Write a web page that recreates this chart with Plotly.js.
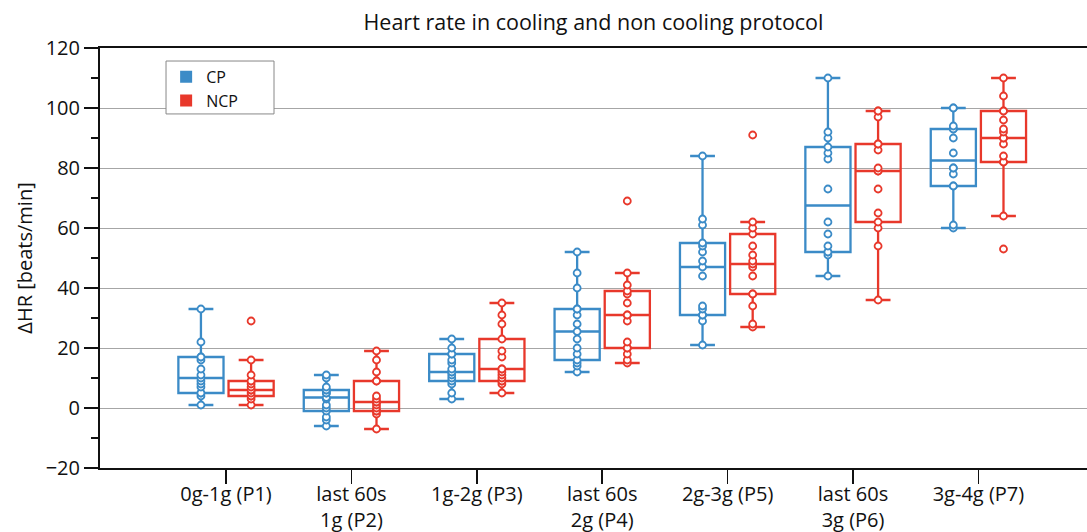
<!DOCTYPE html>
<html>
<head>
<meta charset="utf-8">
<script src="https://cdn.plot.ly/plotly-3.0.1.min.js"></script>
<style>html,body{margin:0;padding:0;background:#fff;}#chart{width:1087px;height:532px;}</style>
</head>
<body>
<div id="chart"></div>
<script>
const categories = ['0g-1g (P1)', 'last 60s<br>1g (P2)', '1g-2g (P3)', 'last 60s<br>2g (P4)', '2g-3g (P5)', 'last 60s<br>3g (P6)', '3g-4g (P7)'];
const seriesNames = ['CP', 'NCP'];

// ΔHR values (beats/min), one array per period
const cpP1 = [1, 4, 5, 5, 7, 8, 9, 10, 11, 13, 16, 17, 17, 22, 33];
const cpP2 = [-6, -4, -3, -1, 0, 1, 3, 3.5, 5, 5, 6, 6, 7, 10, 11];
const cpP3 = [3, 5, 8, 9, 10, 11, 12, 12, 13, 15, 16, 18, 18, 20, 23];
const cpP4 = [12, 14, 15, 16, 18, 20, 23, 25.5, 28, 31, 33, 33, 40, 45, 52];
const cpP5 = [21, 29, 31, 31, 33, 34, 44, 47, 49, 52, 54, 55, 61, 63, 84];
const cpP6 = [44, 51, 52, 52, 54, 58, 62, 73, 83, 85, 87, 90, 92, 110];
const cpP7 = [60, 61, 74, 74, 78, 80, 80, 85, 90, 93, 93, 94, 100, 100];

const ncpP1 = [1, 3, 4, 4, 5, 6, 6, 6, 7, 8, 9, 9, 11, 16, 29];
const ncpP2 = [-7, -2, -1, -1, 0, 1, 2, 2, 3, 4, 9, 9, 12, 16, 19];
const ncpP3 = [5, 8, 9, 9, 10, 11, 12, 13, 13, 17, 19, 23, 28, 31, 35];
const ncpP4 = [15, 16, 18, 20, 20, 22, 29, 31, 31, 35, 38, 39, 41, 45, 69];
const ncpP5 = [27, 28, 34, 38, 38, 44, 47, 48, 49, 51, 54, 58, 60, 62, 91];
const ncpP6 = [36, 54, 60, 62, 65, 73, 79, 79, 80, 86, 88, 88, 97, 99, 99];
const ncpP7 = [53, 64, 82, 82, 84, 88, 90, 90, 92, 93, 96, 99, 99, 104, 110];

const cpData = [cpP1, cpP2, cpP3, cpP4, cpP5, cpP6, cpP7];
const ncpData = [ncpP1, ncpP2, ncpP3, ncpP4, ncpP5, ncpP6, ncpP7];

const colors = {CP: '#3b8bc7', NCP: '#e8382b'};
const FONT = '"Open Sans", "DejaVu Sans", sans-serif';

function boxTrace(name, groups) {
  const x = [], y = [];
  groups.forEach((vals, i) => vals.forEach(v => { x.push(categories[i]); y.push(v); }));
  return {
    type: 'box', name: name, x: x, y: y, showlegend: false,
    quartilemethod: 'exclusive',
    boxpoints: 'all', jitter: 0, pointpos: 0,
    whiskerwidth: 0.55,
    line: {color: colors[name], width: 2.3},
    fillcolor: 'rgba(255,255,255,0)',
    marker: {symbol: 'circle', size: 7, color: '#ffffff', line: {color: colors[name], width: 1.8}},
    hoverinfo: 'y'
  };
}

function legendTrace(name) {
  return {
    type: 'scatter', mode: 'markers', name: name, x: [null], y: [null],
    marker: {symbol: 'square', size: 16, color: colors[name]},
    showlegend: true, hoverinfo: 'skip'
  };
}

const data = [
  boxTrace('CP', cpData),
  boxTrace('NCP', ncpData),
  legendTrace('CP'),
  legendTrace('NCP')
];

const layout = {
  width: 1087, height: 532,
  margin: {l: 100, r: 0, t: 48, b: 64},
  paper_bgcolor: '#ffffff', plot_bgcolor: '#ffffff',
  font: {family: FONT, color: '#111111', size: 18},
  title: {text: 'Heart rate in cooling and non cooling protocol', font: {family: FONT, size: 21.5, color: '#111111'},
          x: 0.5, xref: 'paper', xanchor: 'center', y: 0.958, yanchor: 'middle'},
  boxmode: 'group', boxgap: 0.2, boxgroupgap: 0.1,
  showlegend: true,
  legend: {x: 0.067, y: 0.972, xanchor: 'left', yanchor: 'top', bgcolor: 'rgba(0,0,0,0)',
           borderwidth: 0, font: {family: FONT, size: 16, color: '#111111'},
           tracegroupgap: 0, itemsizing: 'constant'},
  shapes: [{
    type: 'rect', xref: 'paper', yref: 'paper', layer: 'above',
    x0: 0.0669, x1: 0.1763, y0: 0.843, y1: 0.969,
    fillcolor: '#ffffff', line: {color: '#888888', width: 1}
  }],
  xaxis: {
    type: 'category', categoryorder: 'array', categoryarray: categories,
    range: [-1.005, 6.866], showline: true, linecolor: '#111111', linewidth: 2, mirror: true,
    ticks: 'outside', ticklen: 14, tickwidth: 1.5, tickcolor: '#111111', ticklabelstandoff: -7,
    showgrid: false, zeroline: false, tickfont: {family: FONT, size: 20, color: '#111111'}
  },
  yaxis: {
    range: [-20, 120], dtick: 20, tick0: 0,
    showline: true, linecolor: '#111111', linewidth: 2, mirror: false,
    ticks: 'outside', ticklen: 14, tickwidth: 1.5, tickcolor: '#111111',
    minor: {dtick: 10, ticks: 'outside', ticklen: 7, tickwidth: 1.5, tickcolor: '#111111', showgrid: false},
    showgrid: true, gridcolor: '#a6a6a6', gridwidth: 1, zeroline: false,
    tickfont: {family: FONT, size: 20, color: '#111111'},
    title: {text: 'ΔHR [beats/min]', font: {family: FONT, size: 20, color: '#111111'}, standoff: 8}
  }
};

Plotly.newPlot('chart', data, layout, {displayModeBar: false, staticPlot: true});
</script>
</body>
</html>
